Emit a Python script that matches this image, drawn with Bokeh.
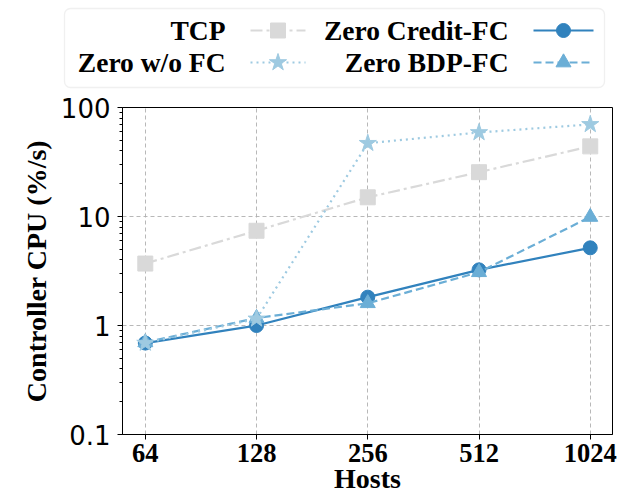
from bokeh.plotting import figure
from bokeh.layouts import column
from bokeh.models import Range1d, FixedTicker, BoxAnnotation
from bokeh.core.properties import value
from bokeh.embed import file_html
from bokeh.resources import INLINE

# ---- data ----
hosts = [64, 128, 256, 512, 1024]
host_labels = ["64", "128", "256", "512", "1024"]
tcp = [3.7, 7.4, 15.0, 25.5, 44.0]
zero_wo_fc = [0.69, 1.15, 47.0, 59.0, 70.0]
zero_credit_fc = [0.69, 1.0, 1.82, 3.24, 5.16]
zero_bdp_fc = [0.70, 1.17, 1.6, 3.08, 9.9]
y_ticks = [0.1, 1, 10, 100]
y_tick_labels = ["0.1", "1", "10", "100"]

SERIF = "Liberation Serif"

series = [
    dict(name="TCP", y=tcp, color="#d9d9d9", dash="12 4 3 4", marker="square", size=15),
    dict(name="Zero Credit-FC", y=zero_credit_fc, color="#3182bd", dash="solid", marker="circle", size=14),
    dict(name="Zero BDP-FC", y=zero_bdp_fc, color="#6baed6", dash="8 4", marker="triangle", size=15),
    dict(name="Zero w/o FC", y=zero_wo_fc, color="#9ecae1", dash="2 4", marker="star", size=18),
]

# legend slots (column-major like matplotlib ncol=2)
legend_slots = {
    "TCP": (225, 250, 305, 30),
    "Zero w/o FC": (225, 250, 305, 62),
    "Zero Credit-FC": (508, 533, 593, 30),
    "Zero BDP-FC": (508, 533, 593, 62),
}

# ---- legend figure ----
LH = 90
leg = figure(width=620, height=LH, x_range=Range1d(0, 620), y_range=Range1d(LH, 0),
             min_border=0, toolbar_location=None, output_backend="svg")
leg.frame_align = False
leg.axis.visible = False
leg.grid.visible = False
leg.outline_line_color = None
leg.add_layout(BoxAnnotation(left=64, right=604, top=8, bottom=87, fill_color=None,
                             line_color="#cccccc", line_width=1.3, border_radius=6))
for s in series:
    tx, x0, x1, yy = legend_slots[s["name"]]
    leg.text(x=[tx], y=[yy], text=[s["name"]], text_font=value(SERIF), text_font_style="bold",
             text_font_size="27.5px", text_align="right", text_baseline="middle", text_color="black")
    leg.line([x0, x1], [yy, yy], line_color=s["color"], line_width=2.2, line_dash=s["dash"])
    leg.scatter([(x0 + x1) / 2], [yy], marker=s["marker"], size=s["size"],
                fill_color=s["color"], line_color=s["color"])

# ---- main figure ----
p = figure(frame_width=490, frame_height=327, x_axis_type="log", y_axis_type="log",
           x_range=Range1d(2 ** 5.795, 2 ** 10.2), y_range=Range1d(0.1, 100),
           min_border_top=107 - LH, min_border_left=122, min_border_right=8, min_border_bottom=50,
           toolbar_location=None, output_backend="svg")
p.frame_align = False

for s in series:
    p.line(hosts, s["y"], line_color=s["color"], line_width=2.2, line_dash=s["dash"])
    p.scatter(hosts, s["y"], marker=s["marker"], size=s["size"],
              fill_color=s["color"], line_color=s["color"])

p.xaxis.ticker = FixedTicker(ticks=hosts, minor_ticks=[])
p.xaxis.major_label_overrides = {h: l for h, l in zip(hosts, host_labels)}
minor = [m * d for d in (0.1, 1, 10) for m in range(2, 10)]
p.yaxis.ticker = FixedTicker(ticks=y_ticks, minor_ticks=minor)
p.yaxis.major_label_overrides = {t: l for t, l in zip(y_ticks, y_tick_labels)}

p.xaxis.major_label_text_font = SERIF
p.xaxis.major_label_text_font_style = "bold"
p.xaxis.major_label_text_font_size = "26.5px"
p.xaxis.major_label_standoff = 4
p.yaxis.major_label_text_font = "DejaVu Sans"
p.yaxis.major_label_text_font_style = "normal"
p.yaxis.major_label_text_font_size = "26px"
p.yaxis.major_label_standoff = 7

p.axis.major_tick_out = 5
p.axis.major_tick_in = 0
p.axis.minor_tick_out = 3
p.axis.minor_tick_in = 0
p.axis.axis_line_color = "black"
p.axis.major_tick_line_color = "black"
p.axis.minor_tick_line_color = "black"
p.axis.major_label_text_color = "black"

p.xaxis.axis_label = "Hosts"
p.yaxis.axis_label = "Controller CPU (%/s)"
p.axis.axis_label_text_font = SERIF
p.axis.axis_label_text_font_style = "bold"
p.axis.axis_label_text_font_size = "28px"
p.axis.axis_label_text_color = "black"
p.xaxis.axis_label_standoff = -2
p.yaxis.axis_label_standoff = 6

p.grid.grid_line_color = "#b0b0b0"
p.grid.grid_line_dash = "4 3"
p.grid.grid_line_width = 0.9
p.outline_line_color = "black"
p.outline_line_width = 1

layout = column(leg, p, spacing=0)
open("out.html", "w").write(file_html(layout, INLINE))
